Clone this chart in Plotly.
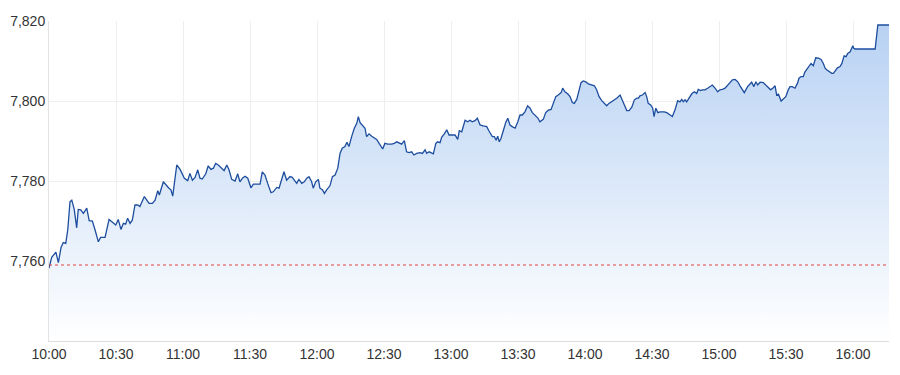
import pandas as pd
import plotly.graph_objects as go

# minutes after 10:00 and index level
minutes = [0.0, 1.2, 3.1, 4.2, 5.4, 6.4, 7.5, 8.4, 9.4, 10.2, 11.3, 12.4, 13.1, 14.2, 15.4, 16.9, 18.0, 19.4, 20.6, 22.1,
           23.1, 25.1, 26.9, 28.8, 29.9, 31.0, 32.2, 33.3, 34.3, 35.2, 36.3, 37.3, 38.5, 39.7, 40.7, 42.7, 43.7, 44.8, 46.3, 47.5,
           48.7, 49.4, 51.2, 52.3, 53.7, 54.6, 55.4, 57.2, 58.7, 60.6, 62.1, 63.1, 64.2, 65.4, 66.6, 67.6, 68.6, 70.2, 71.3, 72.5,
           73.6, 74.6, 75.8, 77.3, 78.4, 79.6, 80.6, 81.8, 83.3, 84.5, 85.5, 86.6, 87.8, 89.0, 90.4, 91.5, 93.7, 94.5, 95.5, 96.7,
           97.9, 99.4, 100.4, 102.0, 103.0, 104.2, 105.2, 106.4, 107.9, 108.9, 110.1, 110.9, 111.9, 113.2, 114.3, 115.4, 116.4, 117.6, 118.3, 119.4,
           120.6, 121.3, 122.4, 123.3, 124.3, 125.8, 126.9, 128.1, 129.3, 130.3, 131.3, 132.5, 133.4, 134.3, 135.5, 136.7, 137.8, 138.5, 139.3, 140.3,
           141.5, 142.2, 143.3, 144.5, 145.7, 146.7, 147.8, 148.7, 149.4, 150.4, 151.7, 153.4, 154.6, 155.7, 156.7, 157.9, 159.1, 160.1, 161.2, 162.4,
           163.4, 164.6, 166.1, 167.2, 168.4, 169.1, 170.2, 171.4, 172.1, 173.2, 174.0, 175.1, 175.8, 177.0, 178.1, 179.1, 180.3, 181.8, 183.0, 183.7,
           184.8, 186.3, 187.5, 188.5, 189.5, 190.7, 191.8, 193.0, 194.4, 196.0, 197.0, 198.5, 199.4, 200.2, 200.9, 201.6, 202.4, 203.4, 204.5, 205.4,
           206.4, 207.4, 208.7, 209.9, 210.9, 211.9, 213.1, 214.3, 215.4, 216.4, 217.6, 218.8, 219.8, 220.6, 221.3, 222.4, 223.6, 224.8, 225.8, 226.9,
           228.0, 229.3, 230.0, 231.0, 232.2, 233.3, 234.3, 235.2, 236.3, 237.3, 238.2, 239.2, 240.3, 241.5, 242.7, 244.2, 245.2, 246.3, 247.5, 248.6,
           249.7, 250.7, 252.7, 254.2, 255.7, 256.7, 257.6, 258.7, 259.7, 260.9, 262.1, 263.2, 263.9, 264.6, 265.7, 266.9, 267.6, 268.3, 269.4, 270.3,
           270.9, 271.7, 272.6, 273.6, 275.5, 276.6, 278.1, 279.1, 280.3, 281.5, 282.5, 283.3, 284.0, 284.8, 285.5, 286.6, 287.8, 288.9, 290.0, 290.7,
           291.8, 292.5, 293.7, 294.9, 296.0, 297.0, 298.2, 299.4, 300.4, 301.5, 302.7, 303.9, 304.9, 306.0, 307.2, 308.4, 309.4, 310.4, 311.3, 312.8,
           313.9, 314.6, 315.6, 316.5, 317.3, 318.4, 319.8, 320.9, 322.1, 323.1, 324.3, 325.1, 325.8, 326.6, 327.8, 328.8, 329.9, 331.0, 331.8, 332.8,
           334.0, 335.1, 335.8, 336.7, 337.7, 338.5, 339.3, 340.3, 341.2, 342.2, 343.3, 344.5, 345.7, 346.7, 347.5, 348.2, 349.3, 350.5, 351.2, 352.0,
           353.0, 354.2, 355.0, 356.0, 356.9, 357.6, 358.7, 359.4, 359.9, 360.3, 360.9, 369.9, 371.1, 376.1]

values = [7758.2, 7760.9, 7762.2, 7759.6, 7763.4, 7764.6, 7764.4, 7767.8, 7774.8, 7775.2, 7772.9, 7768.3, 7772.9, 7772.8, 7771.9, 7773.2, 7770.1, 7770.0, 7767.8, 7764.8,
          7765.9, 7765.9, 7770.4, 7769.4, 7769.0, 7770.4, 7767.9, 7769.4, 7769.2, 7770.7, 7769.4, 7770.2, 7774.0, 7774.0, 7773.6, 7776.1, 7775.2, 7774.4, 7774.4, 7775.2,
          7777.6, 7776.5, 7779.8, 7779.0, 7778.2, 7777.8, 7776.2, 7784.0, 7782.9, 7780.7, 7780.1, 7781.9, 7780.2, 7780.9, 7782.8, 7780.7, 7780.5, 7781.8, 7783.8, 7782.9,
          7783.2, 7784.4, 7784.0, 7783.2, 7782.6, 7784.0, 7782.8, 7780.4, 7780.0, 7781.8, 7779.8, 7780.7, 7781.2, 7780.7, 7778.3, 7779.2, 7779.2, 7779.2, 7782.3, 7781.5,
          7779.4, 7777.1, 7777.3, 7778.4, 7778.2, 7780.7, 7782.3, 7780.2, 7781.1, 7780.9, 7779.8, 7779.4, 7780.4, 7779.4, 7779.8, 7780.7, 7781.1, 7779.8, 7778.2, 7779.8,
          7780.4, 7778.2, 7777.8, 7776.9, 7777.8, 7778.8, 7781.1, 7781.5, 7783.2, 7786.9, 7788.2, 7788.6, 7789.7, 7788.6, 7791.1, 7793.2, 7794.4, 7796.1, 7794.6, 7794.0,
          7793.2, 7791.1, 7791.8, 7791.2, 7790.7, 7790.4, 7789.4, 7788.6, 7788.0, 7789.4, 7789.2, 7789.2, 7789.4, 7789.8, 7789.6, 7789.2, 7790.1, 7787.3, 7787.1, 7787.3,
          7786.5, 7786.9, 7787.1, 7786.9, 7787.8, 7786.9, 7787.3, 7786.9, 7786.8, 7789.4, 7789.8, 7789.6, 7790.9, 7791.8, 7792.8, 7791.5, 7791.5, 7791.5, 7790.4, 7792.6,
          7792.3, 7795.2, 7794.8, 7795.2, 7794.8, 7795.1, 7795.7, 7794.0, 7793.8, 7793.6, 7792.5, 7791.1, 7791.1, 7790.2, 7791.2, 7789.8, 7790.7, 7792.8, 7794.6, 7795.7,
          7794.0, 7793.6, 7793.2, 7794.8, 7796.5, 7796.5, 7797.3, 7798.8, 7798.2, 7797.1, 7796.5, 7795.8, 7794.8, 7795.2, 7795.4, 7797.1, 7797.7, 7797.9, 7799.6, 7801.1,
          7801.5, 7802.1, 7803.2, 7802.3, 7801.8, 7801.1, 7799.6, 7799.4, 7800.4, 7802.8, 7804.6, 7805.0, 7804.8, 7804.3, 7804.0, 7803.8, 7802.8, 7801.1, 7800.1, 7799.4,
          7798.8, 7799.4, 7800.1, 7800.7, 7801.5, 7800.1, 7798.8, 7797.6, 7797.6, 7798.4, 7800.3, 7800.7, 7800.7, 7801.3, 7801.5, 7802.1, 7801.1, 7799.4, 7799.0, 7798.2,
          7796.1, 7798.2, 7797.1, 7797.3, 7797.3, 7797.1, 7796.5, 7796.1, 7797.8, 7800.1, 7799.8, 7800.4, 7799.8, 7800.3, 7799.8, 7800.7, 7801.8, 7802.3, 7801.9, 7802.9,
          7802.6, 7802.8, 7802.8, 7803.2, 7803.6, 7804.0, 7803.2, 7802.3, 7802.8, 7802.9, 7803.2, 7804.0, 7804.8, 7805.3, 7805.4, 7804.8, 7803.8, 7802.8, 7802.1, 7803.6,
          7804.4, 7804.7, 7803.6, 7804.8, 7804.0, 7804.7, 7804.6, 7804.0, 7803.3, 7802.8, 7803.3, 7803.8, 7801.5, 7801.7, 7800.0, 7800.5, 7801.1, 7802.8, 7803.6, 7803.6,
          7803.2, 7804.4, 7805.7, 7806.1, 7806.1, 7807.3, 7808.0, 7808.6, 7809.4, 7808.8, 7810.8, 7810.7, 7810.4, 7809.4, 7808.2, 7807.8, 7807.3, 7806.9, 7806.9, 7807.5,
          7808.3, 7808.6, 7809.4, 7811.3, 7811.1, 7811.9, 7812.3, 7813.2, 7813.8, 7813.2, 7813.0, 7813.0, 7819.0, 7819.0]

prev_close = 7759.0
y_ticks = [7760, 7780, 7800, 7820]
y_min, y_max = 7740, 7820

base = pd.Timestamp("2024-01-02 10:00:00")
times = [base + pd.Timedelta(minutes=m) for m in minutes]

fig = go.Figure()
fig.add_trace(go.Scatter(
    x=times, y=values, mode="lines",
    line=dict(color="#1d4d9e", width=1.3),
    fill="tozeroy",
    fillgradient=dict(type="vertical",
                      colorscale=[[0, "rgba(255,255,255,1)"], [1, "#b7d1f3"]],
                      start=y_min, stop=y_max),
    hoverinfo="skip", showlegend=False,
))
fig.add_trace(go.Scatter(
    x=[times[0], times[-1]], y=[prev_close, prev_close], mode="lines",
    line=dict(color="#e5453f", width=1, dash="dot"),
    hoverinfo="skip", showlegend=False,
))

fig.update_layout(
    width=900, height=375,
    margin=dict(l=49, r=11, t=21, b=34),
    paper_bgcolor="white", plot_bgcolor="white",
    font=dict(family="Liberation Sans, Arial, sans-serif", size=14, color="#333333"),
    xaxis=dict(
        type="date", range=[times[0], times[-1]],
        tickformat="%H:%M", dtick=30 * 60 * 1000, tick0=base,
        showgrid=True, gridcolor="#eeeeee", gridwidth=1,
        showline=True, linecolor="#dddddd", linewidth=1,
        ticks="", zeroline=False,
    ),
    yaxis=dict(
        range=[y_min, y_max], tickvals=y_ticks, tickformat=",d",
        showgrid=True, gridcolor="#eeeeee", gridwidth=1,
        showline=True, linecolor="#e3e3e3", linewidth=1,
        ticks="", zeroline=False,
    ),
)

fig.write_html("out.html")
